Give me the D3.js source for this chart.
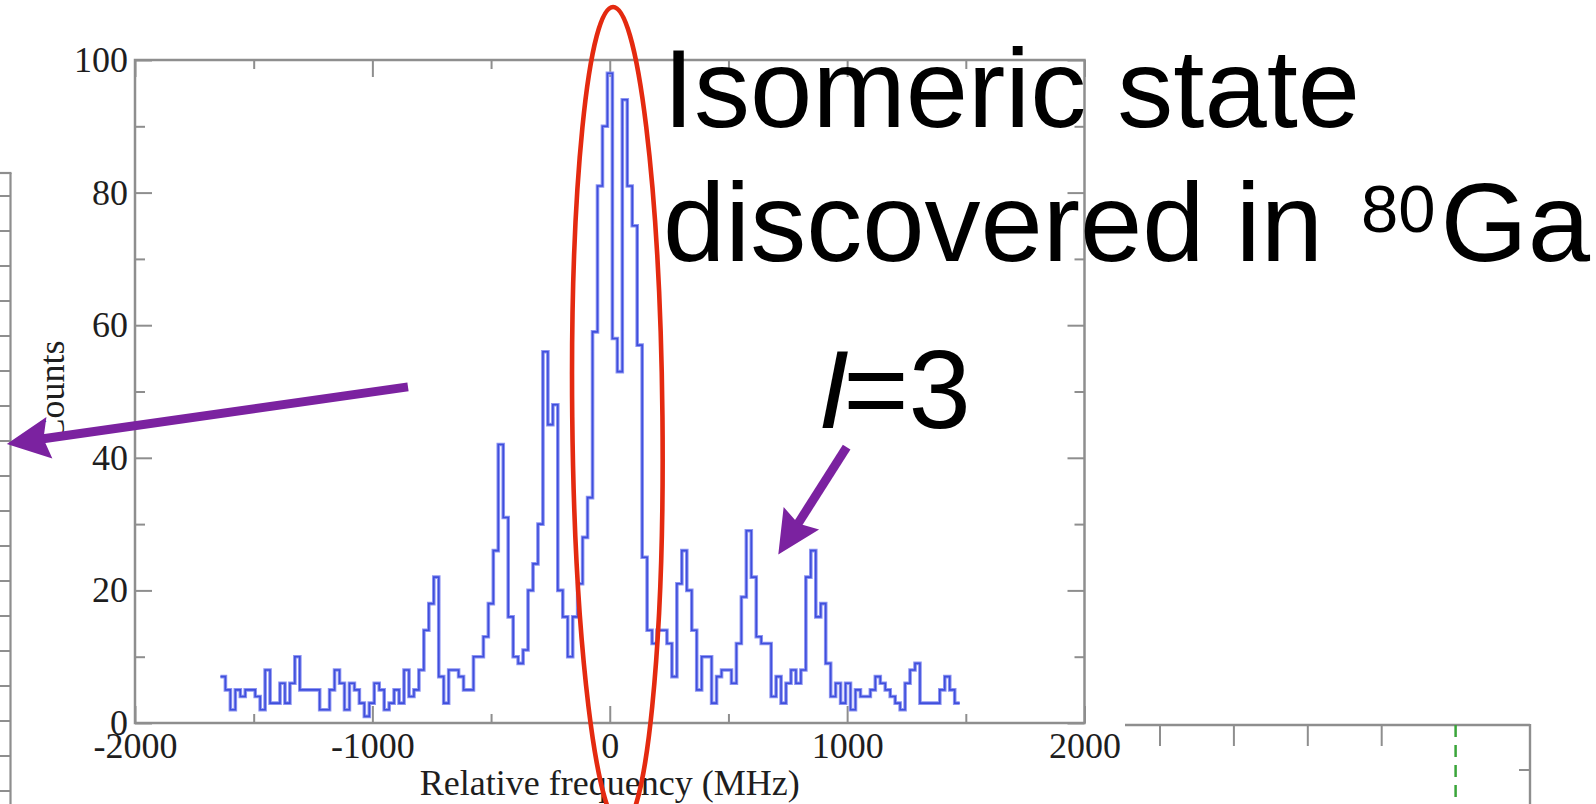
<!DOCTYPE html>
<html><head><meta charset="utf-8">
<script src="https://cdn.jsdelivr.net/npm/d3@7"></script>
<style>html,body{margin:0;padding:0;background:#fff;overflow:hidden}svg{display:block}</style>
</head><body>
<svg id="c" width="1596" height="804"></svg>
<script>
// ---------- data ----------
const binStartMHz = -1640;
const binWidthMHz = 20.9;
const counts = [7,5,2,5,4,5,5,4,2,8,
  3,3,6,3,6,10,5,5,5,5,
  2,2,5,8,6,2,6,5,3,1,
  3,6,5,2,3,5,3,8,4,5,
  8,14,18,22,7,3,8,8,7,5,
  5,10,10,13,18,26,42,31,16,10,
  9,11,20,24,30,56,45,48,20,16,
  10,16,21,28,34,59,81,90,98,58,
  53,94,81,75,57,25,14,12,14,14,
  12,7,21,26,20,14,5,10,10,3,
  7,8,8,6,12,19,29,22,13,12,
  12,4,7,3,6,8,6,8,22,26,
  16,18,9,4,6,3,6,2,5,4,
  4,5,7,6,5,4,3,2,6,8,
  9,3,3,3,3,5,7,5,3];
const xDomain = [-2000, 2000];
const yDomain = [0, 100];
const xMajorTicks = [-2000, -1000, 0, 1000, 2000];
const xMinorTicks = [-1500, -500, 500, 1500];
const yMajorTicks = [0, 20, 40, 60, 80, 100];
const yMinorTicks = [10, 30, 50, 70, 90];
const xLabel = "Relative frequency (MHz)";
const yLabel = "Counts";
const titleLine1 = "Isomeric state";
const titleLine2 = ["discovered in ", "80", "Ga"];
const spinLabel = ["I", "=3"];
// annotation anchors, in data units of the chart
const ellipseCenter = [32, 46.2];
const ellipseRadii = [190, 61.8];
const arrowLeft = {from: [-850, 50.7], to: [-2540, 42.1]};
const arrowSpin = {from: [998, 41.6], to: [710, 25.4]};
// neighbouring (cropped) panels
const leftPanelTicks = d3.range(-6, 12);
const rightPanelTicks = [0, 1, 2, 3, 4];

// ---------- layout ----------
const svg = d3.select("#c");
const L = 135, R = 1084.5, T = 60, B = 723;
const x = d3.scaleLinear().domain(xDomain).range([L, R]);
const y = d3.scaleLinear().domain(yDomain).range([B, T]);
const frameColor = "#8e8e8e";
const serif = "'Liberation Serif','Times New Roman',serif";
const sans = "'Liberation Sans',Arial,Helvetica,sans-serif";
const plainNum = d => String(d);

svg.append("rect").attr("width",1596).attr("height",804).attr("fill","#fff");

// ---------- left cropped panel ----------
const yl = d3.scaleLinear().domain([0,1]).range([406,441]);
const lp = svg.append("g");
lp.append("line").attr("x1",10.5).attr("x2",10.5).attr("y1",173).attr("y2",804)
  .attr("stroke",frameColor).attr("stroke-width",2.2);
lp.append("line").attr("x1",0).attr("x2",11.5).attr("y1",173).attr("y2",173)
  .attr("stroke",frameColor).attr("stroke-width",2.2);
lp.selectAll(".lt").data(leftPanelTicks).join("line")
  .attr("x1",0).attr("x2",10.5).attr("y1",d=>yl(d)).attr("y2",d=>yl(d))
  .attr("stroke",frameColor).attr("stroke-width",2);

// ---------- bottom-right cropped panel ----------
const xr = d3.scaleLinear().domain([0,4]).range([1160,1455.6]);
const rp = svg.append("g");
rp.append("line").attr("x1",1125).attr("x2",1530).attr("y1",725).attr("y2",725)
  .attr("stroke",frameColor).attr("stroke-width",2.4);
rp.append("line").attr("x1",1530).attr("x2",1530).attr("y1",724).attr("y2",804)
  .attr("stroke",frameColor).attr("stroke-width",2.4);
rp.append("line").attr("x1",1519).attr("x2",1530).attr("y1",770).attr("y2",770)
  .attr("stroke",frameColor).attr("stroke-width",2);
rp.selectAll(".rt").data(rightPanelTicks.slice(0,4)).join("line")
  .attr("x1",d=>xr(d)).attr("x2",d=>xr(d)).attr("y1",725).attr("y2",746)
  .attr("stroke",frameColor).attr("stroke-width",2);
rp.append("line").attr("x1",xr(4)).attr("x2",xr(4)).attr("y1",725).attr("y2",804)
  .attr("stroke","#3aa53a").attr("stroke-width",2.5).attr("stroke-dasharray","12,8");

// ---------- axes ----------
function styleAxis(g){
  g.select(".domain").remove();
  g.selectAll(".tick line").attr("stroke",frameColor).attr("stroke-width",2);
  g.selectAll(".tick text").attr("fill","#1e1e1e").attr("font-family",serif).attr("font-size",36);
}
svg.append("g").attr("transform",`translate(0,${B})`)
  .call(d3.axisBottom(x).tickValues(xMajorTicks).tickSize(-17).tickPadding(9).tickFormat(plainNum))
  .call(styleAxis);
svg.append("g").attr("transform",`translate(0,${B})`)
  .call(d3.axisBottom(x).tickValues(xMinorTicks).tickSize(-9).tickFormat("")).call(styleAxis);
svg.append("g").attr("transform",`translate(0,${T})`)
  .call(d3.axisTop(x).tickValues(xMajorTicks).tickSize(-17).tickFormat("")).call(styleAxis);
svg.append("g").attr("transform",`translate(0,${T})`)
  .call(d3.axisTop(x).tickValues(xMinorTicks).tickSize(-9).tickFormat("")).call(styleAxis);
svg.append("g").attr("transform",`translate(${L},0)`)
  .call(d3.axisLeft(y).tickValues(yMajorTicks).tickSize(-17).tickPadding(7).tickFormat(plainNum))
  .call(styleAxis);
svg.append("g").attr("transform",`translate(${L},0)`)
  .call(d3.axisLeft(y).tickValues(yMinorTicks).tickSize(-10).tickFormat("")).call(styleAxis);
svg.append("g").attr("transform",`translate(${R},0)`)
  .call(d3.axisRight(y).tickValues(yMajorTicks).tickSize(-17).tickFormat("")).call(styleAxis);
svg.append("g").attr("transform",`translate(${R},0)`)
  .call(d3.axisRight(y).tickValues(yMinorTicks).tickSize(-10).tickFormat("")).call(styleAxis);

svg.append("rect").attr("x",L).attr("y",T).attr("width",R-L).attr("height",B-T)
  .attr("fill","none").attr("stroke",frameColor).attr("stroke-width",2.5);

svg.append("text").attr("x",(L+R)/2).attr("y",795).attr("text-anchor","middle")
  .attr("font-family",serif).attr("font-size",36).attr("fill","#1e1e1e").text(xLabel);
svg.append("text").attr("transform",`translate(64,${(T+B)/2}) rotate(-90)`).attr("text-anchor","middle")
  .attr("font-family",serif).attr("font-size",36).attr("fill","#1e1e1e").text(yLabel);

// ---------- histogram ----------
const pts = counts.map((c,i)=>[binStartMHz + i*binWidthMHz, c]);
pts.push([binStartMHz + counts.length*binWidthMHz, counts[counts.length-1]]);
const line = d3.line().x(d=>x(d[0])).y(d=>y(d[1])).curve(d3.curveStepAfter);
svg.append("path").attr("d",line(pts)).attr("fill","none")
  .attr("stroke","#8d94f2").attr("stroke-width",3.6).attr("stroke-linejoin","miter");
svg.append("path").attr("d",line(pts)).attr("fill","none")
  .attr("stroke","#3f4fdc").attr("stroke-width",1.6).attr("stroke-linejoin","miter");

// ---------- red ellipse ----------
const ecx = x(ellipseCenter[0]), ecy = y(ellipseCenter[1]);
svg.append("ellipse").attr("cx",ecx).attr("cy",ecy)
  .attr("rx",x(ellipseRadii[0]) - x(0)).attr("ry",y(0) - y(ellipseRadii[1]))
  .attr("transform",`rotate(-0.6,${ecx},${ecy})`)
  .attr("fill","none").attr("stroke","#e42a10").attr("stroke-width",4.6);

// ---------- text ----------
svg.append("text").attr("x",663).attr("y",127).attr("font-family",sans).attr("font-size",112)
  .attr("fill","#000").text(titleLine1);
const t2 = svg.append("text").attr("x",663).attr("y",261).attr("font-family",sans).attr("font-size",112).attr("fill","#000");
t2.append("tspan").text(titleLine2[0]);
t2.append("tspan").attr("font-size",67).attr("dx",7).attr("dy",-29).text(titleLine2[1]);
t2.append("tspan").attr("dx",5).attr("dy",29).text(titleLine2[2]);
const t3 = svg.append("text").attr("x",818).attr("y",428).attr("font-family",sans).attr("font-size",112).attr("fill","#000");
t3.append("tspan").attr("font-style","italic").text(spinLabel[0]);
t3.append("tspan").attr("dx",-6).text(spinLabel[1]);

// ---------- arrows ----------
const purple = "#7b22a0";
function arrow(a){
  const x0 = x(a.from[0]), y0 = y(a.from[1]), x1 = x(a.to[0]), y1 = y(a.to[1]);
  const dx = x1-x0, dy = y1-y0, len = Math.hypot(dx,dy), ux = dx/len, uy = dy/len;
  const hl = 43, hw = 21, notch = 6;
  const bx = x1 - ux*hl, by = y1 - uy*hl;
  svg.append("line").attr("x1",x0).attr("y1",y0).attr("x2",bx+ux*notch+ux*2).attr("y2",by+uy*notch+uy*2)
    .attr("stroke",purple).attr("stroke-width",9);
  const p = [[x1,y1],[bx - uy*hw, by + ux*hw],[bx+ux*notch, by+uy*notch],[bx + uy*hw, by - ux*hw]];
  svg.append("path").attr("d","M"+p.map(q=>q.join(",")).join("L")+"Z").attr("fill",purple);
}
arrow(arrowLeft);
arrow(arrowSpin);
</script>
</body></html>
